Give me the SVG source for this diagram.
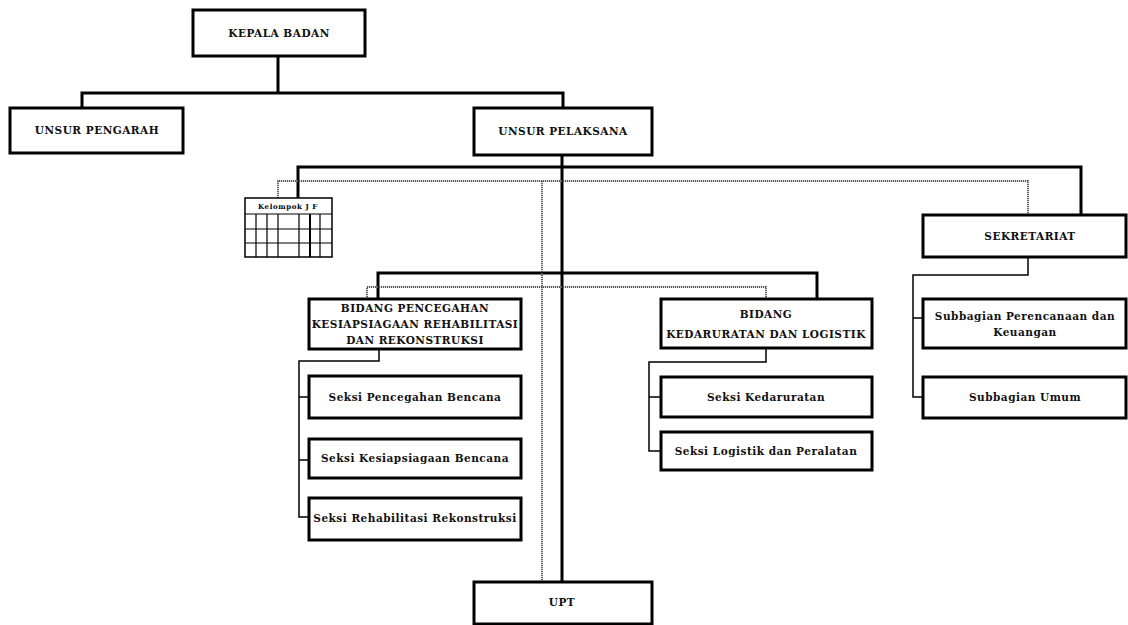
<svg xmlns="http://www.w3.org/2000/svg" width="1128" height="625" viewBox="0 0 1128 625">
<style>
.box{fill:#fff;stroke:#000;stroke-width:3}
.t{font-family:"DejaVu Serif","Liberation Serif",serif;font-weight:bold;font-size:10.5px;letter-spacing:0.5px;text-anchor:middle;fill:#111}
.thick{fill:none;stroke:#000;stroke-width:3}
.thin{fill:none;stroke:#000;stroke-width:1.5}
.dash{fill:none;stroke:#555;stroke-width:1.8;stroke-dasharray:1.2 0.8}
.grid{fill:none;stroke:#000;stroke-width:1.2}
</style>
<rect width="1128" height="625" fill="#fff"/>
<g id="connectors">
<path class="thick" d="M278,55 V93 M82,108 V93 H563 V108"/>
<path class="thick" d="M562,155 V582"/>
<path class="thick" d="M298,198 V167 H1081 V215"/>
<path class="thick" d="M378,299 V273 H817 V299"/>
<path class="dash" d="M278,198 V181 H1028 V215"/>
<path class="dash" d="M542,181 V582"/>
<path class="dash" d="M367,299 V287 H766 V299"/>
<path class="thin" d="M379,349 V361 H299 V517 H309 M299,397 H309 M299,460 H309"/>
<path class="thin" d="M766,348 V362 H649 V451 H661 M649,397 H661"/>
<path class="thin" d="M1028,257 V275 H913 V397 H923 M913,318 H923"/>
</g>
<g id="kepala"><rect class="box" x="193" y="10" width="172" height="46"/><text class="t" x="279" y="37">KEPALA BADAN</text></g>
<g id="pengarah"><rect class="box" x="10" y="108" width="173" height="45"/><text class="t" x="97" y="134">UNSUR PENGARAH</text></g>
<g id="pelaksana"><rect class="box" x="474" y="108" width="178" height="47"/><text class="t" x="563" y="135">UNSUR PELAKSANA</text></g>
<g id="kelompok">
<rect x="245" y="198" width="87" height="59" fill="#fff" stroke="#000" stroke-width="1.5"/>
<path class="grid" d="M245,214 H332 M245,229 H332 M245,243 H332 M256,214 V257 M267,214 V257 M278,214 V257 M299,214 V257 M320,214 V257"/>
<path d="M310,214 V257" stroke="#000" stroke-width="2"/>
<text x="288" y="209" style="font-family:'DejaVu Serif','Liberation Serif',serif;font-weight:bold;font-size:7px;text-anchor:middle" letter-spacing="0.6">Kelompok J F</text>
</g>
<g id="sekretariat"><rect class="box" x="923" y="215" width="203" height="42"/><text class="t" x="1030" y="240">SEKRETARIAT</text></g>
<g id="bidang1"><rect class="box" x="309" y="299" width="212" height="50"/>
<text class="t" x="415" y="312">BIDANG PENCEGAHAN</text>
<text class="t" x="415" y="328">KESIAPSIAGAAN REHABILITASI</text>
<text class="t" x="415" y="344">DAN REKONSTRUKSI</text></g>
<g id="bidang2"><rect class="box" x="661" y="299" width="211" height="49"/>
<text class="t" x="766" y="318">BIDANG</text>
<text class="t" x="766" y="338">KEDARURATAN DAN LOGISTIK</text></g>
<g id="seksi1"><rect class="box" x="309" y="376" width="212" height="42"/><text class="t" x="415" y="401">Seksi Pencegahan Bencana</text></g>
<g id="seksi2"><rect class="box" x="309" y="439" width="212" height="39"/><text class="t" x="415" y="462">Seksi Kesiapsiagaan Bencana</text></g>
<g id="seksi3"><rect class="box" x="309" y="498" width="212" height="42"/><text class="t" x="415" y="522">Seksi Rehabilitasi Rekonstruksi</text></g>
<g id="seksi4"><rect class="box" x="661" y="377" width="211" height="40"/><text class="t" x="766" y="401">Seksi Kedaruratan</text></g>
<g id="seksi5"><rect class="box" x="661" y="432" width="211" height="38"/><text class="t" x="766" y="455">Seksi Logistik dan Peralatan</text></g>
<g id="subbag1"><rect class="box" x="923" y="299" width="203" height="49"/>
<text class="t" x="1025" y="320">Subbagian Perencanaan dan</text>
<text class="t" x="1025" y="336">Keuangan</text></g>
<g id="subbag2"><rect class="box" x="923" y="377" width="203" height="41"/><text class="t" x="1025" y="401">Subbagian Umum</text></g>
<g id="upt"><rect class="box" x="474" y="582" width="178" height="42"/><text class="t" x="562" y="606">UPT</text></g>
</svg>
